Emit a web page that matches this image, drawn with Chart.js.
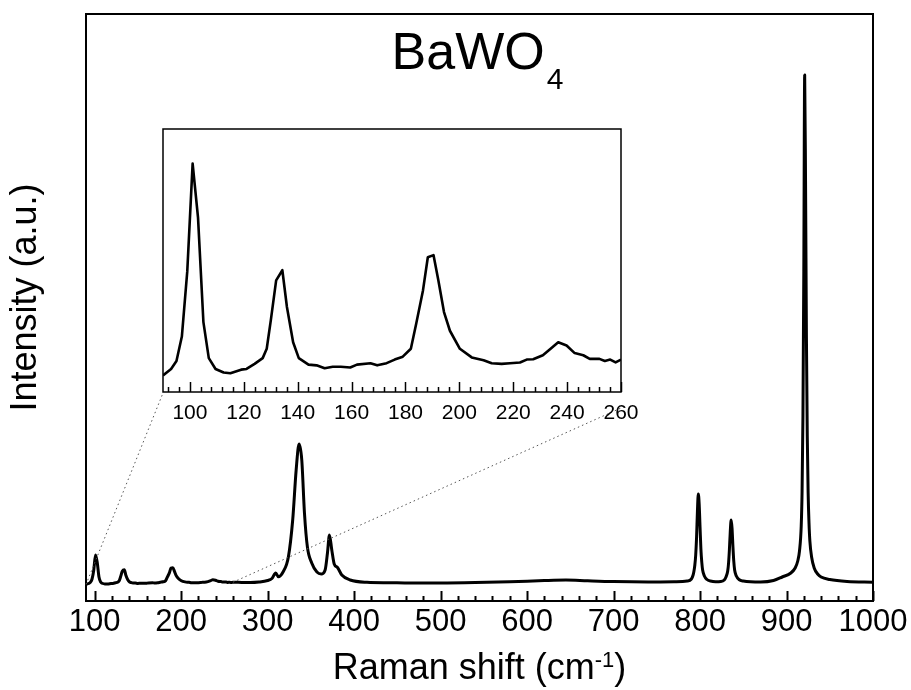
<!DOCTYPE html>
<html><head><meta charset="utf-8">
<script src="https://cdn.jsdelivr.net/npm/chart.js@4/dist/chart.umd.min.js"></script>
<style>
html,body{margin:0;padding:0;background:#fff;}
#wrap{position:relative;width:911px;height:690px;overflow:hidden;}
#main{position:absolute;left:0;top:0;}
#inset{position:absolute;left:140px;top:110px;}
</style></head><body>
<div id="wrap"><canvas id="main" width="911" height="690"></canvas><canvas id="inset" width="520" height="330"></canvas></div>
<script>
// ---- data ----
const wavenumber = [90,93,95,97,99,101,103,105,107,109.5,112.5,115,119,121,124,127,128.5,130,132,134.3,136,138.3,140.4,144,147,150,153,156,159.5,162,167,169.5,173,176,179,182,184,186.5,188.3,190.4,192.2,194.3,196.5,200.2,204.6,209,212,215.7,218.8,222.5,225,227.4,231,234.2,236.7,239.8,242.8,246,248.4,252,254,256,258,260,
270,280,290,300,305,309.4,312.4,318,324,329,333,336.4,339.5,342.6,346,351,357,362,366.5,369.2,371.5,374.2,377,380.8,385.8,395.5,415,440,465,500,540,580,620,645,670,700,740,770,785,
790,792,793,794,795,796,797,798,799,800,801,802,803,805,808,812,818,824,828,830,832,833,834,835,836,837,838,839,840,842,845,850,870,885,895,905,910,913,915,917,918,919,920,921,922,923,924,925,926,927,929,932,936,940,950,970,1000];
const intensity = [16.6,17.5,18.6,22.0,31.0,46.0,38.5,24.0,19.0,17.5,17.0,16.9,17.4,17.5,18.2,19.0,20.3,24.2,29.8,31.2,26.1,21.2,19.0,18.1,18.0,17.6,17.8,17.8,17.7,18.1,18.3,18.0,18.3,18.8,19.2,20.3,23.8,28.4,33.0,33.3,29.8,25.4,22.8,20.3,19.1,18.7,18.3,18.2,18.3,18.4,18.8,18.85,19.4,20.4,21.2,20.75,19.7,19.4,18.9,18.9,18.6,18.8,18.4,18.8,
18.6,18.5,19.0,20.5,22.5,28.0,24.3,29.3,44,81,131,157,141,88,54,38,29,27,31,48,66,51,37,33.5,26,21,18.7,18.3,18.0,18.0,18.4,19.2,20.5,21.0,20.2,19.4,19.0,19.3,20.0,
22,26,30,36,46,64,90,107,97,74,52,39,31,25,21.5,20,19.3,19.5,21,24,30,38,52,70,81,73,55,40,31,25,21.5,20,19,20.5,24,28,33,40,50,75,110,185,330,526,420,265,165,108,78,60,44,33,27,24,21.5,19.5,18.8];
const mainTickLabels = [100,200,300,400,500,600,700,800,900,1000];
const insetTickLabels = [100,120,140,160,180,200,220,240,260];
const titleText = ['BaWO','4'];
const xTitleText = ['Raman shift (cm','-1',')'];
const yTitleText = 'Intensity (a.u.)';

const FONT = '"Liberation Sans", Arial, sans-serif';
const mainPts = wavenumber.map((x,i)=>({x:x,y:intensity[i]}));
const insetPts = mainPts.filter(p=>p.x<=260);

function drawTicks(ctx, chart, from, to, step, majors, majLen, minLen, lw){
  const xs = chart.scales.x, a = chart.chartArea;
  ctx.save(); ctx.strokeStyle='#000'; ctx.lineWidth=lw;
  for(let v=from; v<=to+1e-9; v+=step){
    const px = Math.round(xs.getPixelForValue(v))+0.5;
    const len = majors.includes(v)?majLen:minLen;
    ctx.beginPath(); ctx.moveTo(px,a.bottom); ctx.lineTo(px,a.bottom-len); ctx.stroke();
  }
  ctx.restore();
}

// ---- inset chart ----
const insetDecor = {
  id:'insetDecor',
  afterDraw(chart){
    const ctx=chart.ctx, a=chart.chartArea;
    ctx.save();
    ctx.strokeStyle='#000'; ctx.lineWidth=1.5;
    ctx.strokeRect(a.left,a.top,a.right-a.left,a.bottom-a.top);
    ctx.restore();
    drawTicks(ctx, chart, 92, 260, 4, insetTickLabels, 10, 5, 1.5);
    ctx.save(); ctx.fillStyle='#000'; ctx.font='21px '+FONT;
    ctx.textAlign='center'; ctx.textBaseline='middle';
    insetTickLabels.forEach(v=>ctx.fillText(String(v), chart.scales.x.getPixelForValue(v), a.bottom+21));
    ctx.restore();
  }
};
const insetChart = new Chart(document.getElementById('inset'), {
  type:'line',
  data:{datasets:[{data:insetPts, borderColor:'#000', borderWidth:2.6, pointRadius:0, tension:0, fill:false, borderJoinStyle:'round'}]},
  options:{responsive:false, animation:false, devicePixelRatio:1,
    layout:{padding:{left:23,top:19,right:39,bottom:48}},
    scales:{x:{type:'linear',min:90,max:260,display:false}, y:{min:14.3,max:50.8,display:false}},
    plugins:{legend:{display:false},tooltip:{enabled:false}}},
  plugins:[insetDecor]
});

// ---- main chart ----
const mainDecor = {
  id:'mainDecor',
  afterDraw(chart){
    const ctx=chart.ctx, a=chart.chartArea, xs=chart.scales.x, ys=chart.scales.y;
    ctx.save();
    ctx.strokeStyle='#000'; ctx.lineWidth=2;
    ctx.strokeRect(a.left,a.top,a.right-a.left,a.bottom-a.top);
    ctx.restore();
    drawTicks(ctx, chart, 100, 1000, 20, mainTickLabels, 10, 5, 2);
    ctx.save(); ctx.fillStyle='#000';
    ctx.font='31px '+FONT; ctx.textAlign='center'; ctx.textBaseline='middle';
    mainTickLabels.forEach(v=>ctx.fillText(String(v), xs.getPixelForValue(v), a.bottom+21));
    // x title with superscript
    const cx=(a.left+a.right)/2;
    ctx.textBaseline='alphabetic'; ctx.textAlign='left';
    const F=36, fs=22;
    ctx.font=F+'px '+FONT; const w1=ctx.measureText(xTitleText[0]).width;
    ctx.font=fs+'px '+FONT; const w2=ctx.measureText(xTitleText[1]).width;
    ctx.font=F+'px '+FONT; const w3=ctx.measureText(xTitleText[2]).width;
    let x0=cx-(w1+w2+w3)/2; const by=a.bottom+78;
    ctx.font=F+'px '+FONT; ctx.fillText(xTitleText[0],x0,by);
    ctx.font=fs+'px '+FONT; ctx.fillText(xTitleText[1],x0+w1,by-12);
    ctx.font=F+'px '+FONT; ctx.fillText(xTitleText[2],x0+w1+w2,by);
    // y title
    ctx.save(); ctx.translate(26,(a.top+a.bottom)/2-10); ctx.rotate(-Math.PI/2);
    ctx.font='36px '+FONT; ctx.textAlign='center'; ctx.textBaseline='middle';
    ctx.fillText(yTitleText,0,0); ctx.restore();
    // main title with subscript
    const T=52, ts=30;
    ctx.font=T+'px '+FONT; const t1=ctx.measureText(titleText[0]).width;
    ctx.font=ts+'px '+FONT; const t2=ctx.measureText(titleText[1]).width;
    let tx=cx-(t1+t2)/2-3; const tb=a.top+55;
    ctx.font=T+'px '+FONT; ctx.fillText(titleText[0],tx,tb);
    ctx.font=ts+'px '+FONT; ctx.fillText(titleText[1],tx+t1+2,tb+20);
    ctx.restore();
    // dotted zoom lines to the inset
    const ia=insetChart.chartArea, ic=insetChart.canvas;
    const ox=ic.offsetLeft, oy=ic.offsetTop;
    const pL={x:xs.getPixelForValue(mainPts[0].x), y:ys.getPixelForValue(mainPts[0].y)};
    const p260=mainPts.find(p=>p.x===260);
    const pR={x:xs.getPixelForValue(p260.x), y:ys.getPixelForValue(p260.y)};
    ctx.save(); ctx.strokeStyle='#555'; ctx.lineWidth=1; ctx.setLineDash([1.5,3]);
    ctx.beginPath(); ctx.moveTo(pL.x,pL.y); ctx.lineTo(ox+ia.left, oy+ia.bottom+1); ctx.stroke();
    ctx.beginPath(); ctx.moveTo(pR.x,pR.y); ctx.lineTo(ox+ia.right, oy+ia.bottom+16); ctx.stroke();
    ctx.restore();
  }
};
new Chart(document.getElementById('main'), {
  type:'line',
  data:{datasets:[{data:mainPts, borderColor:'#000', borderWidth:3, pointRadius:0, cubicInterpolationMode:'monotone', fill:false, borderJoinStyle:'round'}]},
  options:{responsive:false, animation:false, devicePixelRatio:1,
    layout:{padding:{left:86,top:14,right:38,bottom:89}},
    scales:{x:{type:'linear',min:90,max:1000,display:false}, y:{min:0,max:587,display:false}},
    plugins:{legend:{display:false},tooltip:{enabled:false}}},
  plugins:[mainDecor]
});
</script></body></html>
